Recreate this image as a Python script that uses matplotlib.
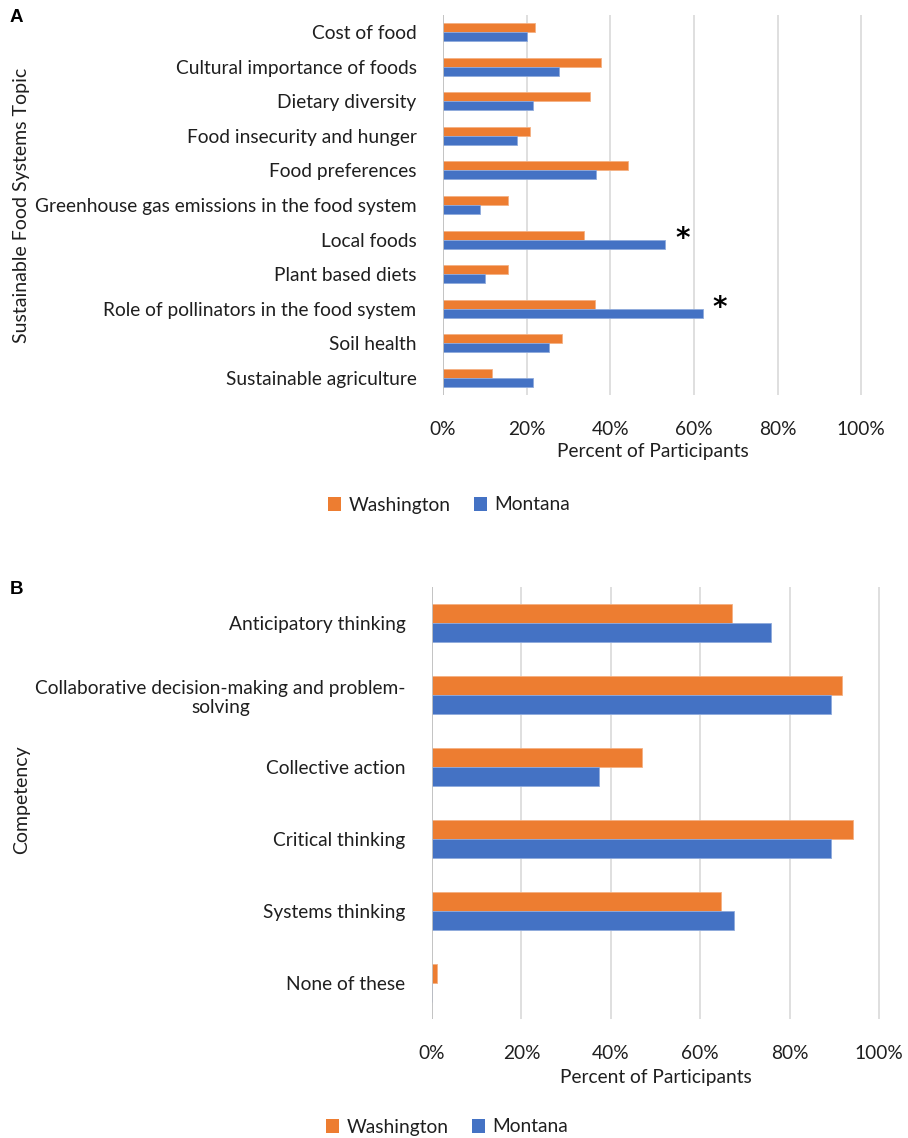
import numpy as np
import matplotlib.pyplot as plt
from matplotlib.patches import Patch
from matplotlib.ticker import FuncFormatter

# Panel A: sustainable food systems topics (% of participants)
topics = [
    "Cost of food",
    "Cultural importance of foods",
    "Dietary diversity",
    "Food insecurity and hunger",
    "Food preferences",
    "Greenhouse gas emissions in the food system",
    "Local foods",
    "Plant based diets",
    "Role of pollinators in the food system",
    "Soil health",
    "Sustainable agriculture",
]
topics_wa = [22.1, 37.7, 35.1, 20.7, 44.2, 15.5, 33.8, 15.5, 36.4, 28.5, 11.6]
topics_mt = [20.2, 27.8, 21.5, 17.7, 36.6, 8.8, 53.2, 10.0, 62.1, 25.3, 21.5]
topics_sig = ["Local foods", "Role of pollinators in the food system"]

# Panel B: competencies (% of participants)
competencies = [
    "Anticipatory thinking",
    "Collaborative decision-making and problem-\nsolving",
    "Collective action",
    "Critical thinking",
    "Systems thinking",
    "None of these",
]
comp_wa = [67.0, 91.8, 47.0, 94.2, 64.7, 1.1]
comp_mt = [75.9, 89.2, 37.3, 89.2, 67.5, 0.0]

ticks = [0, 20, 40, 60, 80, 100]

ORANGE = "#ED7D31"
BLUE = "#4472C4"
GRID = "#D9D9D9"
TXT = "#1F1F1F"
FS = 13.8

plt.rcParams["font.family"] = ["Lato", "DejaVu Sans"]

W, H = 908, 1138
fig = plt.figure(figsize=(W / 100, H / 100), dpi=100)


def px_axes(left, top, right, bottom):
    return fig.add_axes([left / W, 1 - bottom / H, (right - left) / W, (bottom - top) / H])


def draw_panel(ax, cats, wa, mt, xmax):
    y = np.arange(len(cats))
    h = 0.26
    ax.barh(y - h / 2, wa, height=h, color=ORANGE, edgecolor="#F4B183", linewidth=0.6, zorder=3)
    ax.barh(y + h / 2, mt, height=h, color=BLUE, edgecolor="#8FAADC", linewidth=0.6, zorder=3)
    ax.set_ylim(len(cats) - 0.5, -0.5)
    ax.set_xlim(0, xmax)
    ax.set_xticks(ticks)
    ax.xaxis.set_major_formatter(FuncFormatter(lambda v, p: f"{v:.0f}%"))
    ax.set_yticks(y)
    ax.set_yticklabels(cats, fontsize=FS, color=TXT, multialignment="center")
    ax.tick_params(axis="both", length=0)
    ax.tick_params(axis="x", labelsize=FS, colors=TXT, pad=19)
    ax.tick_params(axis="y", pad=19)
    ax.grid(axis="x", color=GRID, linewidth=1.2, zorder=0)
    for s in ["top", "right", "bottom", "left"]:
        ax.spines[s].set_visible(False)
    ax.axvline(0, color="#BFBFBF", linewidth=1.2, zorder=4)
    return y


# --- Panel A ---
axA = px_axes(443, 15, 862, 395)
yA = draw_panel(axA, topics, topics_wa, topics_mt, 100.2)
for name in topics_sig:
    i = topics.index(name)
    axA.text(topics_mt[i] + 2.3, yA[i] - 0.02, "*", fontsize=20, fontweight="bold",
             ha="left", va="center", color="black", family="DejaVu Sans")
fig.text(653 / W, 1 - 452 / H, "Percent of Participants", fontsize=FS, color=TXT,
         ha="center", va="center")
fig.text(22 / W, 1 - 205 / H, "Sustainable Food Systems Topic", fontsize=14, color=TXT,
         rotation=90, ha="center", va="center")
fig.text(10 / W, 1 - 18 / H, "A", fontsize=13.5, fontweight="bold", family="Liberation Sans",
         ha="left", va="center")

# --- Panel B ---
axB = px_axes(432, 587, 880, 1019)
draw_panel(axB, competencies, comp_wa, comp_mt, 100.2)
fig.text(656 / W, 1 - 1078 / H, "Percent of Participants", fontsize=FS, color=TXT,
         ha="center", va="center")
fig.text(22 / W, 1 - 800 / H, "Competency", fontsize=14, color=TXT,
         rotation=90, ha="center", va="center")
fig.text(10 / W, 1 - 590 / H, "B", fontsize=13.5, fontweight="bold", family="Liberation Sans",
         ha="left", va="center")

# legends
handles = [Patch(facecolor=ORANGE, label="Washington"), Patch(facecolor=BLUE, label="Montana")]
for cx, cy in [(449, 505), (447, 1127)]:
    fig.legend(handles=handles, loc="center", bbox_to_anchor=(cx / W, 1 - cy / H),
               ncol=2, frameon=False, fontsize=FS, handlelength=0.7, handleheight=0.7,
               handletextpad=0.4, columnspacing=1.2, labelcolor=TXT)

fig.savefig("out.png", dpi=100, facecolor="white")
